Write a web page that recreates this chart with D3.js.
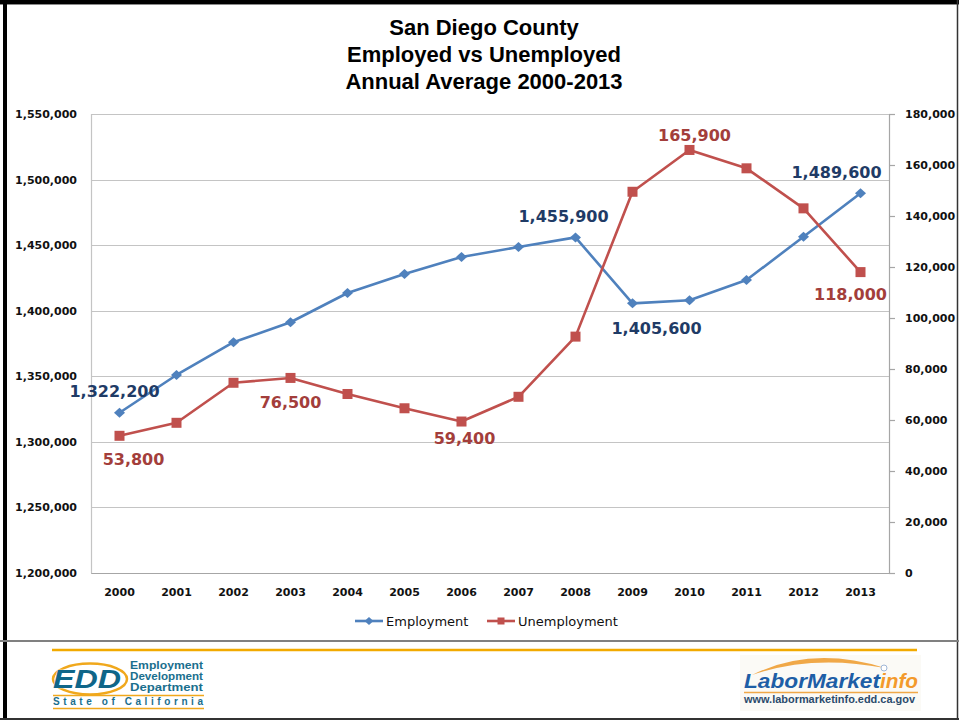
<!DOCTYPE html>
<html>
<head>
<meta charset="utf-8">
<script src="https://cdn.jsdelivr.net/npm/d3@7"></script>
<style>
  html, body { margin: 0; padding: 0; background: #ffffff; }
  svg { display: block; }
</style>
</head>
<body>
<svg id="chart" width="959" height="720"></svg>
<script>
// ---------------- DATA ----------------
const titleLines = ["San Diego County", "Employed vs Unemployed", "Annual Average 2000-2013"];
const years = ["2000","2001","2002","2003","2004","2005","2006","2007","2008","2009","2010","2011","2012","2013"];
const employment = [1322200, 1351000, 1376000, 1391200, 1413500, 1428000, 1441000, 1448600, 1455900, 1405600, 1408000, 1423400, 1456400, 1489600];
const unemployment = [53800, 58900, 74600, 76500, 70200, 64600, 59400, 69100, 92700, 149500, 165900, 158700, 143000, 118000];
const leftTicks = [1200000, 1250000, 1300000, 1350000, 1400000, 1450000, 1500000, 1550000];
const rightTicks = [0, 20000, 40000, 60000, 80000, 100000, 120000, 140000, 160000, 180000];
const seriesNames = ["Employment", "Unemployment"];
// points that carry a data label: [series, year]
const labelledPoints = [
  ["Employment", "2000"], ["Employment", "2008"], ["Employment", "2009"], ["Employment", "2013"],
  ["Unemployment", "2000"], ["Unemployment", "2003"], ["Unemployment", "2006"],
  ["Unemployment", "2010"], ["Unemployment", "2013"]
];
const eddLines = ["Employment", "Development", "Department"];
const eddState = "State of California";
const lmiName = ["LaborMarket", "info"];
const lmiUrl = "www.labormarketinfo.edd.ca.gov";

// ---------------- LAYOUT ----------------
const svg = d3.select("#chart");
const plot = { left: 91, right: 889, top: 114, bottom: 573 };
const colors = { Employment: "#4F81BD", Unemployment: "#C0504D" };
const labelColors = { Employment: "#1F3B66", Unemployment: "#A33E3B" };
const tickFont = "'DejaVu Sans', Verdana, sans-serif";

const x = d3.scaleBand().domain(years).range([plot.left, plot.right]);
const yL = d3.scaleLinear().domain([1200000, 1550000]).range([plot.bottom, plot.top]);
const yR = d3.scaleLinear().domain([0, 180000]).range([plot.bottom, plot.top]);
const cx = d => x(d) + x.bandwidth() / 2;
const fmt = d3.format(",");

// ---------------- FRAME ----------------
svg.append("rect").attr("x", 0).attr("y", 0).attr("width", 959).attr("height", 4).attr("fill", "#000");
svg.append("line").attr("x1", 0).attr("x2", 959).attr("y1", 4.5).attr("y2", 4.5).attr("stroke", "#8a8a8a").attr("stroke-width", 1);
svg.append("rect").attr("x", 3).attr("y", 0).attr("width", 4).attr("height", 720).attr("fill", "#000");
svg.append("line").attr("x1", 957.5).attr("x2", 957.5).attr("y1", 0).attr("y2", 720).attr("stroke", "#333").attr("stroke-width", 1.5);
svg.append("line").attr("x1", 0).attr("x2", 959).attr("y1", 641).attr("y2", 641).attr("stroke", "#808080").attr("stroke-width", 2);
svg.append("rect").attr("x", 0).attr("y", 718).attr("width", 959).attr("height", 2).attr("fill", "#333");

// ---------------- TITLE ----------------
svg.append("g").selectAll("text").data(titleLines).join("text")
  .attr("x", 484).attr("y", (d, i) => 35 + i * 27)
  .attr("text-anchor", "middle")
  .attr("font-family", "'Liberation Sans', Arial, sans-serif")
  .attr("font-weight", "bold").attr("font-size", 22).attr("fill", "#000")
  .text(d => d);

// ---------------- GRID & AXES ----------------
const grid = svg.append("g");
grid.selectAll("line").data(leftTicks).join("line")
  .attr("x1", plot.left).attr("x2", plot.right)
  .attr("y1", d => Math.round(yL(d)) + 0.5).attr("y2", d => Math.round(yL(d)) + 0.5)
  .attr("stroke", "#c4c4c4").attr("stroke-width", 1.2);
grid.append("line").attr("x1", plot.left + 0.5).attr("x2", plot.left + 0.5)
  .attr("y1", plot.top).attr("y2", plot.bottom).attr("stroke", "#c4c4c4").attr("stroke-width", 1.2);

const axL = svg.append("g").attr("transform", `translate(${plot.left},0)`)
  .call(d3.axisLeft(yL).tickValues(leftTicks).tickFormat(fmt).tickSize(0).tickPadding(14));
axL.select(".domain").remove();
axL.selectAll("text").attr("font-family", tickFont).attr("font-weight", "bold").attr("font-size", 11).attr("fill", "#111");

const axR = svg.append("g").attr("transform", `translate(${plot.right},0)`)
  .call(d3.axisRight(yR).tickValues(rightTicks).tickFormat(fmt).tickSize(6).tickPadding(10).tickSizeOuter(0));
axR.select(".domain").attr("stroke", "#a6a6a6").attr("stroke-width", 1.2);
axR.selectAll(".tick line").attr("stroke", "#a6a6a6").attr("stroke-width", 1.2);
axR.selectAll("text").attr("font-family", tickFont).attr("font-weight", "bold").attr("font-size", 11).attr("fill", "#111");

const axB = svg.append("g").attr("transform", `translate(0,${plot.bottom})`)
  .call(d3.axisBottom(x).tickSize(0).tickPadding(15));
axB.select(".domain").attr("stroke", "#a6a6a6").attr("stroke-width", 1.2);
axB.selectAll("text").attr("font-family", tickFont).attr("font-weight", "bold").attr("font-size", 11).attr("fill", "#111");

// ---------------- SERIES ----------------
const seriesData = {
  Employment: years.map((yr, i) => ({ year: yr, value: employment[i], px: cx(yr), py: yL(employment[i]) })),
  Unemployment: years.map((yr, i) => ({ year: yr, value: unemployment[i], px: cx(yr), py: yR(unemployment[i]) }))
};
const diamond = (s) => `M0,${-s}L${s*1.1},0L0,${s}L${-s*1.1},0Z`;

seriesNames.forEach(name => {
  const pts = seriesData[name];
  svg.append("path").datum(pts)
    .attr("fill", "none").attr("stroke", colors[name]).attr("stroke-width", 2.6)
    .attr("stroke-linejoin", "round")
    .attr("d", d3.line().x(d => d.px).y(d => d.py));
  const g = svg.append("g");
  if (name === "Employment") {
    g.selectAll("path").data(pts).join("path")
      .attr("transform", d => `translate(${d.px},${d.py})`)
      .attr("d", diamond(5)).attr("fill", colors[name]);
  } else {
    g.selectAll("rect").data(pts).join("rect")
      .attr("x", d => d.px - 5).attr("y", d => d.py - 5)
      .attr("width", 10).attr("height", 10).attr("fill", colors[name]);
  }
});

// ---------------- DATA LABELS ----------------
const labelNudge = {
  "Employment-2000": [-5, -16], "Employment-2008": [-12, -15], "Employment-2009": [24, 31], "Employment-2013": [-24, -15],
  "Unemployment-2000": [14, 29], "Unemployment-2003": [0, 30], "Unemployment-2006": [3, 22],
  "Unemployment-2010": [5, -9], "Unemployment-2013": [-10, 28]
};
svg.append("g").selectAll("text").data(labelledPoints).join("text")
  .each(function([name, yr]) {
    const p = seriesData[name].find(d => d.year === yr);
    const [dx, dy] = labelNudge[name + "-" + yr];
    d3.select(this)
      .attr("x", p.px + dx).attr("y", p.py + dy)
      .attr("fill", labelColors[name])
      .text(fmt(p.value));
  })
  .attr("text-anchor", "middle")
  .attr("font-family", tickFont).attr("font-weight", "bold").attr("font-size", 16);

// ---------------- LEGEND ----------------
const legendItems = [
  { name: "Employment", x0: 355 },
  { name: "Unemployment", x0: 487 }
];
const lg = svg.append("g");
legendItems.forEach(it => {
  const y0 = 621;
  lg.append("line").attr("x1", it.x0).attr("x2", it.x0 + 28).attr("y1", y0).attr("y2", y0)
    .attr("stroke", colors[it.name]).attr("stroke-width", 2.6);
  if (it.name === "Employment") {
    lg.append("path").attr("transform", `translate(${it.x0 + 14},${y0})`).attr("d", diamond(4)).attr("fill", colors[it.name]);
  } else {
    lg.append("rect").attr("x", it.x0 + 10.5).attr("y", y0 - 3.5).attr("width", 7).attr("height", 7).attr("fill", colors[it.name]);
  }
  lg.append("text").attr("x", it.x0 + 31).attr("y", y0 + 4.5)
    .attr("font-family", tickFont).attr("font-size", 13).attr("fill", "#111")
    .text(it.name);
});

// ---------------- FOOTER ----------------
const orange = "#F2AA00";
svg.append("line").attr("x1", 52).attr("x2", 917).attr("y1", 650).attr("y2", 650)
  .attr("stroke", orange).attr("stroke-width", 2.5);

// EDD logo
const edd = svg.append("g");
edd.append("ellipse").attr("cx", 90).attr("cy", 679).attr("rx", 37).attr("ry", 15.5)
  .attr("fill", "none").attr("stroke", "#F0A81C").attr("stroke-width", 2.5);
edd.append("text").attr("x", 53).attr("y", 688).attr("textLength", 68).attr("lengthAdjust", "spacingAndGlyphs")
  .attr("font-family", "'Liberation Sans', Arial, sans-serif").attr("font-weight", "bold").attr("font-style", "italic")
  .attr("font-size", 26).attr("fill", "#0F6689").attr("stroke", "#fff").attr("stroke-width", 0.6).attr("paint-order", "stroke")
  .text("EDD");
edd.selectAll("text.l").data(eddLines).join("text").attr("class", "l")
  .attr("x", 130).attr("y", (d, i) => 668.5 + i * 11)
  .attr("textLength", (d, i) => [73, 73, 73][i]).attr("lengthAdjust", "spacingAndGlyphs")
  .attr("font-family", "'Liberation Sans', Arial, sans-serif").attr("font-weight", "bold").attr("font-size", 11.5)
  .attr("fill", "#1A6F8E").text(d => d);
edd.append("line").attr("x1", 53).attr("x2", 204).attr("y1", 695.5).attr("y2", 695.5).attr("stroke", "#F0A81C").attr("stroke-width", 1.5);
edd.append("text").attr("x", 53).attr("y", 705).attr("textLength", 150).attr("lengthAdjust", "spacing")
  .attr("font-family", "'Liberation Sans', Arial, sans-serif").attr("font-weight", "bold").attr("font-size", 10)
  .attr("fill", "#1A6F8E").text(eddState);
edd.append("line").attr("x1", 53).attr("x2", 204).attr("y1", 708.5).attr("y2", 708.5).attr("stroke", "#F0A81C").attr("stroke-width", 1.5);

// LaborMarketInfo logo
const lmi = svg.append("g");
lmi.append("rect").attr("x", 740).attr("y", 655).attr("width", 181).attr("height", 56).attr("fill", "#fbfaf6");
lmi.append("path").attr("d", "M752,675 Q812,645 885,668 Q812,654 752,675 Z").attr("fill", "#F0A848");
lmi.append("circle").attr("cx", 884).attr("cy", 668).attr("r", 3).attr("fill", "#fff").attr("stroke", "#9fb6d6").attr("stroke-width", 1);
lmi.append("text").attr("x", 744).attr("y", 688).attr("textLength", 136).attr("lengthAdjust", "spacingAndGlyphs")
  .attr("font-family", "'Liberation Sans', Arial, sans-serif").attr("font-weight", "bold").attr("font-style", "italic")
  .attr("font-size", 21).attr("fill", "#1E5EA6").text(lmiName[0]);
lmi.append("text").attr("x", 880).attr("y", 688).attr("textLength", 38).attr("lengthAdjust", "spacingAndGlyphs")
  .attr("font-family", "'Liberation Sans', Arial, sans-serif").attr("font-weight", "bold").attr("font-style", "italic")
  .attr("font-size", 21).attr("fill", "#F39A2C").text(lmiName[1]);
lmi.append("line").attr("x1", 744).attr("x2", 918).attr("y1", 692.5).attr("y2", 692.5).attr("stroke", "#F0A848").attr("stroke-width", 1.5);
lmi.append("text").attr("x", 744).attr("y", 703).attr("textLength", 171).attr("lengthAdjust", "spacingAndGlyphs")
  .attr("font-family", "'Liberation Sans', Arial, sans-serif").attr("font-weight", "bold").attr("font-size", 11)
  .attr("fill", "#2B4B6C").text(lmiUrl);
</script>
</body>
</html>
